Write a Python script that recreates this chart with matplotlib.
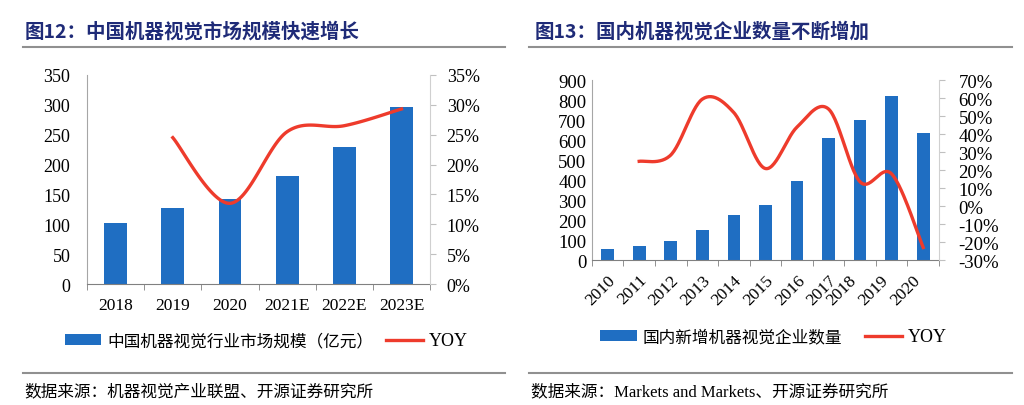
import matplotlib.pyplot as plt
import numpy as np

plt.rcParams['font.family'] = ['Liberation Serif', 'Noto Sans CJK SC', 'DejaVu Sans']

#-----------------------------------------------------------------------------
# Dados

anos_esq = ['2018', '2019', '2020', '2021E', '2022E', '2023E']
mercado = [102, 127, 143, 181, 230, 296]
yoy_esq = [None, 24.5, 13.5, 25.5, 26.5, 29.3]

anos_dir = ['2010', '2011', '2012', '2013', '2014', '2015', '2016', '2017',
            '2018', '2019', '2020']
empresas = [58, 73, 97, 150, 226, 277, 398, 610, 700, 820, 638]
yoy_dir = [None, 25, 28.5, 59.5, 52, 21, 44, 54, 13.6, 18, -22.8]

azul = '#1F6EC2'
vermelho = '#EE3B2C'
titulo_cor = '#1F2B78'
cinza = '#A6A6A6'


#-----------------------------------------------------------------------------
# Linha suavizada (estilo Excel)

def suavizar(x, y, n=30):
    x = np.asarray(x, float)
    y = np.asarray(y, float)
    xs, ys = [], []
    for i in range(len(x) - 1):
        p0 = np.array([x[i - 1] if i > 0 else x[i], y[i - 1] if i > 0 else y[i]])
        p1 = np.array([x[i], y[i]])
        p2 = np.array([x[i + 1], y[i + 1]])
        p3 = np.array([x[i + 2], y[i + 2]]) if i + 2 < len(x) else p2
        c1 = p1 + (p2 - p0) / 6
        c2 = p2 - (p3 - p1) / 6
        t = np.linspace(0, 1, n)[:, None]
        pts = ((1 - t) ** 3) * p1 + 3 * ((1 - t) ** 2) * t * c1 + 3 * (1 - t) * t ** 2 * c2 + t ** 3 * p2
        xs.extend(pts[:, 0])
        ys.extend(pts[:, 1])
    return xs, ys


def estilo(ax, ax2, n, fx, fy):
    for s in ['top', 'right']:
        ax.spines[s].set_visible(False)
    ax.spines['left'].set_color(cinza)
    ax.spines['bottom'].set_color('#808080')
    for s in ['top', 'left', 'bottom']:
        ax2.spines[s].set_visible(False)
    ax2.spines['right'].set_color('#D0D0D0')
    ax.set_xlim(-0.5, n - 0.5)
    ax.set_xticks(np.arange(n))
    ax.set_xticks(np.arange(-0.5, n, 1), minor=True)
    ax.tick_params(axis='x', which='major', length=0, labelsize=fx)
    ax.tick_params(axis='x', which='minor', length=4, color='#808080', direction='out')
    ax.tick_params(axis='y', length=0, labelsize=fy, pad=12)
    ax2.tick_params(axis='y', length=4, color='#C0C0C0', labelsize=fy, pad=8)


def legenda(ax, axb, x, y, espaco):
    h1, l1 = ax.get_legend_handles_labels()
    h2, l2 = axb.get_legend_handles_labels()
    leg = fig.legend(h1 + h2, l1 + l2, loc='center left', bbox_to_anchor=(x, y), ncol=2,
                     frameon=False, handlelength=2.2, handleheight=0.6,
                     columnspacing=espaco, handletextpad=0.35, borderaxespad=0, borderpad=0,
                     prop={'family': ['Noto Sans CJK SC'], 'size': 12})
    leg.get_texts()[1].set_family('Liberation Serif')
    leg.get_texts()[1].set_size(13)
    return leg


fig = plt.figure(figsize=(10.24, 4.06), dpi=100)

#-----------------------------------------------------------------------------
# Gráfico da esquerda

ax1 = fig.add_axes([0.085, 0.298, 0.335, 0.515])
ax1b = ax1.twinx()
x1 = np.arange(len(anos_esq))
ax1.bar(x1, mercado, width=0.4, color=azul, label='中国机器视觉行业市场规模（亿元）')
ax1.set_ylim(0, 350)
ax1.set_yticks(np.arange(0, 351, 50))
ax1.set_xticklabels(anos_esq)
idx = [i for i, v in enumerate(yoy_esq) if v is not None]
sx, sy = suavizar(x1[idx], [yoy_esq[i] for i in idx])
ax1b.plot(sx, sy, color=vermelho, lw=2.4, label='YOY')
ax1b.set_ylim(0, 35)
ax1b.set_yticks(np.arange(0, 36, 5))
ax1b.set_yticklabels(['{}%'.format(v) for v in range(0, 36, 5)])
estilo(ax1, ax1b, len(anos_esq), 12.5, 13)
ax1.tick_params(axis='x', which='major', pad=9)

#-----------------------------------------------------------------------------
# Gráfico da direita

ax2 = fig.add_axes([0.578, 0.356, 0.339, 0.444])
ax2b = ax2.twinx()
x2 = np.arange(len(anos_dir))
ax2.bar(x2, empresas, width=0.4, color=azul, label='国内新增机器视觉企业数量')
ax2.set_ylim(0, 900)
ax2.set_yticks(np.arange(0, 901, 100))
ax2.set_xticklabels(anos_dir, rotation=45, ha='right', rotation_mode='anchor')
idx = [i for i, v in enumerate(yoy_dir) if v is not None]
sx, sy = suavizar(x2[idx], [yoy_dir[i] for i in idx])
ax2b.plot(sx, sy, color=vermelho, lw=2.4, label='YOY')
ax2b.set_ylim(-30, 70)
ax2b.set_yticks(np.arange(-30, 71, 10))
ax2b.set_yticklabels(['{}%'.format(v) for v in range(-30, 71, 10)])
estilo(ax2, ax2b, len(anos_dir), 12.5, 13.5)
ax2.tick_params(axis='y', pad=4)
ax2b.tick_params(axis='y', pad=10)
ax2.tick_params(axis='x', which='major', pad=8)

#-----------------------------------------------------------------------------
# Títulos, legendas e fontes

fig.text(0.024, 0.922, '图12：中国机器视觉市场规模快速增长', color=titulo_cor,
         fontsize=14, fontweight='bold', va='center', family=['Noto Sans CJK SC'])
fig.text(0.522, 0.922, '图13：国内机器视觉企业数量不断增加', color=titulo_cor,
         fontsize=14, fontweight='bold', va='center', family=['Noto Sans CJK SC'])
fig.add_artist(plt.Line2D([0.022, 0.493], [0.882, 0.882], color='#909090', lw=1.5))
fig.add_artist(plt.Line2D([0.517, 0.988], [0.882, 0.882], color='#909090', lw=1.5))
fig.add_artist(plt.Line2D([0.022, 0.493], [0.079, 0.079], color='#909090', lw=1.5))
fig.add_artist(plt.Line2D([0.517, 0.988], [0.079, 0.079], color='#909090', lw=1.5))

legenda(ax1, ax1b, 0.063, 0.158, 0.8)
legenda(ax2, ax2b, 0.586, 0.168, 1.4)

fig.text(0.024, 0.035, '数据来源：机器视觉产业联盟、开源证券研究所', fontsize=12,
         va='center', family=['Noto Sans CJK SC'])
fig.text(0.519, 0.035, '数据来源：Markets and Markets、开源证券研究所', fontsize=12,
         va='center', family=['Liberation Serif', 'Noto Sans CJK SC'])

plt.savefig('out.png', dpi=100)
